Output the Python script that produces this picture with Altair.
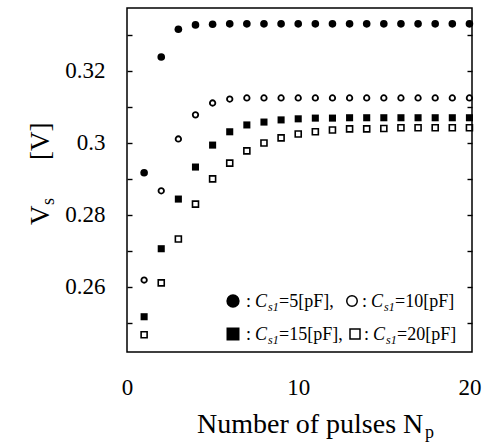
import altair as alt
import pandas as pd

# Output voltage Vs versus number of pulses, for four values of C_s1
pulses = list(range(1, 21))
vs_5pf = [0.2917, 0.3239, 0.3316, 0.3328, 0.3330, 0.3331, 0.3331, 0.3331, 0.3331, 0.3331,
          0.3331, 0.3331, 0.3331, 0.3331, 0.3331, 0.3331, 0.3331, 0.3331, 0.3331, 0.3331]
vs_10pf = [0.2619, 0.2867, 0.3011, 0.3078, 0.3111, 0.3122, 0.3125, 0.3125, 0.3125, 0.3125,
           0.3125, 0.3125, 0.3125, 0.3125, 0.3125, 0.3125, 0.3125, 0.3125, 0.3125, 0.3125]
vs_15pf = [0.2517, 0.2706, 0.2844, 0.2933, 0.2994, 0.3031, 0.3050, 0.3058, 0.3064, 0.3067,
           0.3069, 0.3069, 0.3070, 0.3070, 0.3070, 0.3070, 0.3070, 0.3070, 0.3070, 0.3070]
vs_20pf = [0.2467, 0.2611, 0.2733, 0.2830, 0.2900, 0.2944, 0.2978, 0.3000, 0.3014, 0.3025,
           0.3031, 0.3036, 0.3039, 0.3039, 0.3040, 0.3042, 0.3042, 0.3042, 0.3042, 0.3042]

x_ticks = [0, 10, 20]
y_ticks = [0.25, 0.26, 0.27, 0.28, 0.29, 0.30, 0.31, 0.32, 0.33]

FONT = "Liberation Serif"

df = pd.concat([
    pd.DataFrame({"pulses": pulses, "vs": vs_5pf, "series": "5"}),
    pd.DataFrame({"pulses": pulses, "vs": vs_10pf, "series": "10"}),
    pd.DataFrame({"pulses": pulses, "vs": vs_15pf, "series": "15"}),
    pd.DataFrame({"pulses": pulses, "vs": vs_20pf, "series": "20"}),
], ignore_index=True)

W, H = 345, 344
LEFT, TOP = 127, 8

x_scale = alt.Scale(domain=[0, 20.15], nice=False, zero=False)
y_scale = alt.Scale(domain=[0.2419, 0.3375], nice=False, zero=False)

x_axis = alt.Axis(values=x_ticks, title=None, ticks=False, domain=False, grid=False,
                  labelFont=FONT, labelFontSize=23, labelColor="black", labelPadding=24,
                  labelFlush=False, format="d")
label_expr = "round(datum.value * 100) % 2 == 0 ? format(datum.value, '.2~f') : ''"
y_axis_left = alt.Axis(values=y_ticks, title=None, grid=False, domain=False, offset=-5,
                       tickSize=5, tickWidth=1.4, tickColor="black",
                       labelExpr=label_expr, labelFont=FONT, labelFontSize=23,
                       labelColor="black", labelPadding=22)
y_axis_right = alt.Axis(values=y_ticks, title=None, grid=False, domain=False, offset=-5,
                        orient="right", tickSize=5, tickWidth=1.4, tickColor="black",
                        labels=False)

base = alt.Chart(df)


def series_layer(key, shape, filled, size, stroke_width=1.0):
    return base.transform_filter(alt.datum.series == key).mark_point(
        shape=shape, filled=filled, size=size, color="black", opacity=1,
        strokeWidth=stroke_width,
    ).encode(
        x=alt.X("pulses:Q", scale=x_scale, axis=x_axis),
        y=alt.Y("vs:Q", scale=y_scale, axis=y_axis_left),
    )


data_layers = alt.layer(
    series_layer("5", "circle", True, 58),
    series_layer("10", "circle", False, 30, 1.8),
    series_layer("15", "square", True, 50),
    series_layer("20", "square", False, 36, 1.6),
)

right_axis = base.mark_point(opacity=0).encode(
    x=alt.X("pulses:Q", scale=x_scale, axis=None),
    y=alt.Y("vs:Q", scale=y_scale, axis=y_axis_right),
)

# Legend glyphs and text pieces (page pixel positions)
glyphs = pd.DataFrame({
    "gx": [233, 352, 233, 355],
    "gy": [301, 301, 334, 334],
    "shape": ["circle", "circle", "square", "square"],
    "filled": [True, False, True, False],
    "sz": [177, 110, 169, 100],
})
glyphs["px"] = glyphs["gx"] - LEFT
glyphs["py"] = glyphs["gy"] - TOP


def glyph_layer(filled):
    return alt.Chart(glyphs[glyphs["filled"] == filled]).mark_point(
        filled=filled, color="black", opacity=1, strokeWidth=1.5
    ).encode(
        x=alt.X("px:Q", scale=None),
        y=alt.Y("py:Q", scale=None),
        shape=alt.Shape("shape:N", scale=None),
        size=alt.Size("sz:Q", scale=None),
    )


normal_text = pd.DataFrame([
    (246, 307, ":", 18), (279, 307, "=5[pF],", 18),
    (362, 307, ":", 18), (395, 307, "=10[pF]", 18),
    (246, 340, ":", 18), (279, 340, "=15[pF],", 18),
    (364, 340, ":", 18), (397, 340, "=20[pF]", 18),
    (197, 433, "Number of pulses N", 28), (425, 438, "p", 18),
], columns=["ax", "ay", "text", "fs"])
italic_text = pd.DataFrame([
    (255, 307, "C", 18), (268, 311, "s1", 12),
    (371, 307, "C", 18), (384, 311, "s1", 12),
    (255, 340, "C", 18), (268, 344, "s1", 12),
    (373, 340, "C", 18), (386, 344, "s1", 12),
], columns=["ax", "ay", "text", "fs"])
rotated_text = pd.DataFrame([
    (49, 225, "V", 27), (54, 205, "s", 18), (49, 160, "[V]", 27),
], columns=["ax", "ay", "text", "fs"])
for t in (normal_text, italic_text, rotated_text):
    t["px"] = t["ax"] - LEFT
    t["py"] = t["ay"] - TOP


def text_layer(frame, italic=False, angle=0):
    kwargs = dict(font=FONT, color="black", align="left", baseline="alphabetic")
    if italic:
        kwargs["fontStyle"] = "italic"
    if angle:
        kwargs["angle"] = angle
    return alt.Chart(frame).mark_text(**kwargs).encode(
        x=alt.X("px:Q", scale=None),
        y=alt.Y("py:Q", scale=None),
        text="text:N",
        size=alt.Size("fs:Q", scale=None),
    )


annotations = alt.layer(
    glyph_layer(True), glyph_layer(False),
    text_layer(normal_text), text_layer(italic_text, italic=True),
    text_layer(rotated_text, angle=270),
)

chart = alt.layer(data_layers, right_axis, annotations).resolve_scale(
    x="independent", y="independent"
).properties(
    width=W, height=H,
    padding={"left": LEFT, "top": TOP, "right": 483 - LEFT - W, "bottom": 448 - TOP - H},
    autosize=alt.AutoSizeParams(type="none"),
    background="white",
).configure_view(stroke="black", strokeWidth=1.5)

chart.save("out.html", embed_options={"renderer": "svg", "actions": False})
